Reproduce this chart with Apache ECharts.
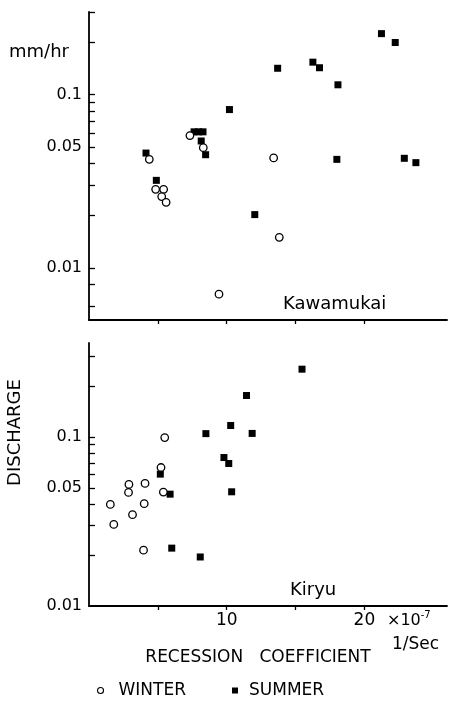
<!DOCTYPE html>
<html><head><meta charset="utf-8">
<script src="https://cdn.jsdelivr.net/npm/echarts@6/dist/echarts.min.js"></script>
<style>html,body{margin:0;padding:0;background:#fff}#c{width:449px;height:705px}</style>
</head><body><div id="c"></div>
<script>
// ---- data ----
const xTicks = [5, 10, 15, 20];
const xLabels = [10, 20];
const yLabelValues = [0.01, 0.05, 0.1];
const yTicksTop = [0.006, 0.008, 0.01, 0.02, 0.03, 0.04, 0.05, 0.06, 0.07, 0.08, 0.09, 0.1, 0.2, 0.3];
const yTicksBottom = [0.02, 0.03, 0.04, 0.05, 0.06, 0.07, 0.08, 0.09, 0.1, 0.2, 0.3];

const kawamukaiSummer = [
  [4.14, 0.046], [4.89, 0.032], [7.63, 0.061], [7.96, 0.061], [8.28, 0.061],
  [8.15, 0.054], [8.47, 0.045], [10.2, 0.082], [12.04, 0.0203], [13.7, 0.142],
  [16.26, 0.154], [16.74, 0.143], [18.08, 0.114], [18.0, 0.0423], [21.24, 0.225],
  [22.24, 0.200], [22.9, 0.0429], [23.74, 0.0405]
];
const kawamukaiWinter = [
  [4.38, 0.0423], [4.84, 0.0284], [5.42, 0.0284], [5.28, 0.0258], [5.6, 0.0239],
  [7.33, 0.058], [8.3, 0.0494], [13.41, 0.0431], [13.82, 0.015], [9.44, 0.00705]
];
const kiryuSummer = [
  [15.47, 0.252], [11.44, 0.176], [10.29, 0.117], [8.49, 0.1047], [11.85, 0.105],
  [9.8, 0.0756], [10.15, 0.0697], [5.18, 0.0603], [5.89, 0.0459], [10.36, 0.0474],
  [6.01, 0.022], [8.08, 0.0195]
];
const kiryuWinter = [
  [5.5, 0.0992], [5.23, 0.066], [2.9, 0.0524], [2.87, 0.047], [4.07, 0.0531],
  [5.4, 0.0472], [1.55, 0.0399], [4.01, 0.0403], [3.16, 0.0347], [1.8, 0.0304],
  [3.96, 0.0214]
];

// ---- chart ----
const FONT = 'DejaVu Sans';
const chart = echarts.init(document.getElementById('c'));
const axisLine = { show: true, lineStyle: { color: '#000', width: 1.8 } };
function xAxis(grid, labels) {
  return {
    type: 'value', gridIndex: grid, min: 0, max: 26,
    axisLine: axisLine, splitLine: { show: false },
    axisTick: { show: true, customValues: xTicks, length: 4, lineStyle: { color: '#000', width: 1.3 } },
    axisLabel: labels ? { show: true, customValues: xLabels, color: '#000', fontSize: 17, fontFamily: FONT, margin: 6 } : { show: false }
  };
}
function yAxis(grid, min, max, ticks) {
  return {
    type: 'log', logBase: 10, gridIndex: grid, min: min, max: max,
    axisLine: axisLine, splitLine: { show: false }, minorTick: { show: false },
    axisTick: { show: true, inside: true, customValues: ticks, length: 6, lineStyle: { color: '#000', width: 1.3 } },
    axisLabel: { show: true, customValues: yLabelValues, color: '#000', fontSize: 16, fontFamily: FONT, margin: 7,
      formatter: v => String(+(+v).toPrecision(3)) }
  };
}
const summerStyle = { color: '#000', opacity: 1 };
const winterStyle = { color: '#fff', borderColor: '#000', borderWidth: 1.3, opacity: 1 };

chart.setOption({
  animation: false,
  backgroundColor: '#fff',
  grid: [
    { left: 89, top: 12, width: 358, height: 308 },
    { left: 89, top: 343, width: 358, height: 263 }
  ],
  xAxis: [xAxis(0, false), xAxis(1, true)],
  yAxis: [yAxis(0, 0.005, 0.3, yTicksTop), yAxis(1, 0.01, 0.36, yTicksBottom)],
  legend: [
    { data: ['WINTER'], left: 97, top: 682, padding: 0, itemWidth: 6, itemHeight: 6,
      itemStyle: { borderWidth: 1.1 },
      textStyle: { fontSize: 17, fontFamily: FONT, color: '#000', padding: [0, 0, 0, 10] } },
    { data: ['SUMMER'], left: 232, top: 682, padding: 0, itemWidth: 6, itemHeight: 6,
      textStyle: { fontSize: 17, fontFamily: FONT, color: '#000', padding: [0, 0, 0, 6] } }
  ],
  series: [
    { name: 'SUMMER', type: 'scatter', xAxisIndex: 0, yAxisIndex: 0, symbol: 'rect', symbolSize: 7, itemStyle: summerStyle, data: kawamukaiSummer },
    { name: 'WINTER', type: 'scatter', xAxisIndex: 0, yAxisIndex: 0, symbol: 'circle', symbolSize: 7.5, itemStyle: winterStyle, data: kawamukaiWinter },
    { name: 'SUMMER', type: 'scatter', xAxisIndex: 1, yAxisIndex: 1, symbol: 'rect', symbolSize: 7, itemStyle: summerStyle, data: kiryuSummer },
    { name: 'WINTER', type: 'scatter', xAxisIndex: 1, yAxisIndex: 1, symbol: 'circle', symbolSize: 7.5, itemStyle: winterStyle, data: kiryuWinter }
  ],
  graphic: [
    { type: 'text', x: 9, y: 52, style: { text: 'mm/hr', font: '18px ' + FONT, fill: '#000', align: 'left', verticalAlign: 'middle' } },
    { type: 'text', x: 283, y: 304, style: { text: 'Kawamukai', font: '18px ' + FONT, fill: '#000', align: 'left', verticalAlign: 'middle' } },
    { type: 'text', x: 290, y: 590, style: { text: 'Kiryu', font: '18px ' + FONT, fill: '#000', align: 'left', verticalAlign: 'middle' } },
    { type: 'text', x: 15.5, y: 432.5, rotation: Math.PI / 2, style: { text: 'DISCHARGE', font: '18px ' + FONT, fill: '#000', align: 'center', verticalAlign: 'middle' } },
    { type: 'text', x: 258, y: 658, style: { text: 'RECESSION   COEFFICIENT', font: '17px ' + FONT, fill: '#000', align: 'center', verticalAlign: 'middle' } },
    { type: 'text', x: 387, y: 621, style: { text: '{a|×10}{b|-7}', fill: '#000', align: 'left', verticalAlign: 'middle',
        rich: { a: { fontSize: 16, fontFamily: FONT, fill: '#000' }, b: { fontSize: 10, fontFamily: FONT, fill: '#000', verticalAlign: 'top', padding: [0, 0, 12, 0] } } } },
    { type: 'text', x: 392, y: 645, style: { text: '1/Sec', font: '17px ' + FONT, fill: '#000', align: 'left', verticalAlign: 'middle' } }
  ]
});
</script></body></html>
